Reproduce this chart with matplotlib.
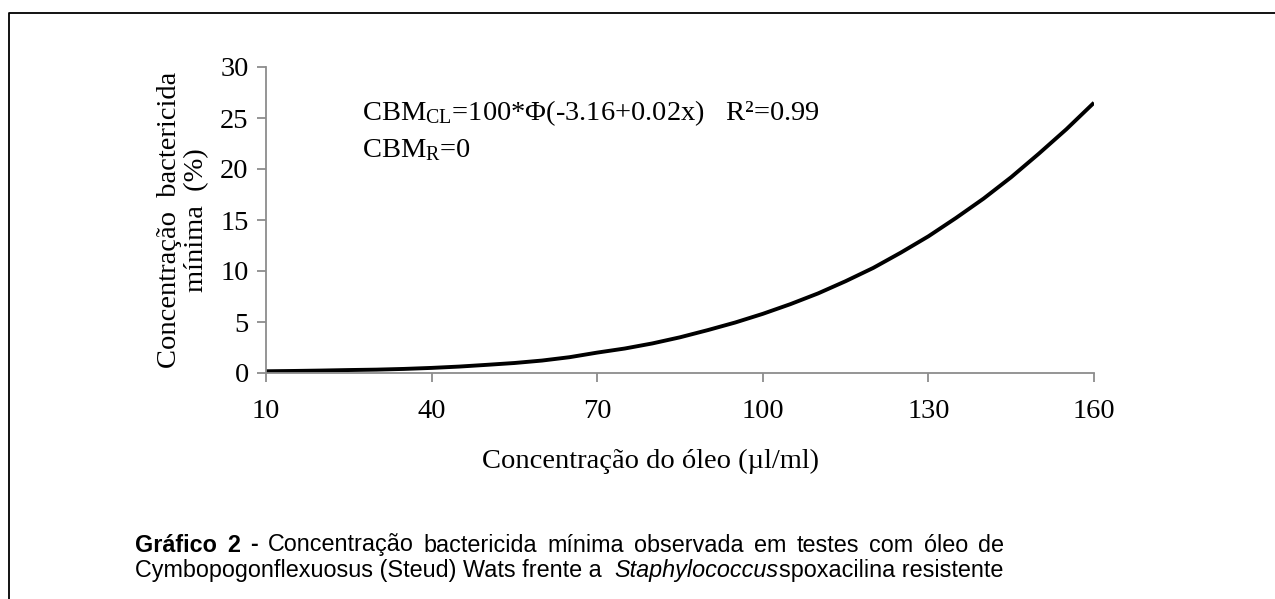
import matplotlib
matplotlib.use("Agg")
import matplotlib.pyplot as plt
from matplotlib.lines import Line2D

# ---- data ----
x_conc = [10, 15, 20, 25, 30, 35, 40, 45, 50, 55, 60, 65, 70, 75, 80, 85,
          90, 95, 100, 105, 110, 115, 120, 125, 130, 135, 140, 145, 150, 155, 160]
cbm_pct = [0.17, 0.2, 0.24, 0.29, 0.33, 0.4, 0.5, 0.63, 0.8, 0.98, 1.22, 1.55, 2.0, 2.4, 2.9, 3.5,
           4.2, 4.95, 5.8, 6.75, 7.8, 9.0, 10.3, 11.8, 13.4, 15.2, 17.1, 19.2, 21.5, 23.9, 26.5]
x_ticks = [10, 40, 70, 100, 130, 160]
y_ticks = [0, 5, 10, 15, 20, 25, 30]

ylabel = "Concentração  bactericida\nmínima  (%)"
xlabel = "Concentração do óleo (µl/ml)"
eq1 = r"CBM$_{\mathrm{CL}}$=100*Φ(-3.16+0.02x)   R²=0.99"
eq2 = r"CBM$_{\mathrm{R}}$=0"
cap1_bold = ["Gráfico", "2", "-"]
cap1_words = ["Concentração", "bactericida", "mínima", "observada", "em", "testes", "com", "óleo", "de"]
cap2_parts = [("Cymbopogonflexuosus (Steud) Wats frente a  ", "normal"),
              ("Staphylococcus", "italic"),
              ("spoxacilina resistente", "normal")]

plt.rcParams['mathtext.fontset'] = 'custom'
plt.rcParams['mathtext.rm'] = 'Liberation Serif'
plt.rcParams['mathtext.it'] = 'Liberation Serif:italic'
plt.rcParams['mathtext.bf'] = 'Liberation Serif:bold'

W, H = 1275, 599
fig = plt.figure(figsize=(W / 100, H / 100), dpi=100)
fig.patch.set_facecolor("white")

ax = fig.add_axes([266 / W, 1 - 373 / H, (1094 - 266) / W, (373 - 67) / H])
serif = "Liberation Serif"
fs = 20.5
ax.plot(x_conc, cbm_pct, color="black", lw=2.8, solid_capstyle="butt")
ax.set_xlim(10, 160)
ax.set_ylim(0, 30)
ax.set_xticks(x_ticks)
ax.set_yticks(y_ticks)
for s in ["top", "right"]:
    ax.spines[s].set_visible(False)
for s in ["left", "bottom"]:
    ax.spines[s].set_color("#8c8c8c")
    ax.spines[s].set_linewidth(1.3)
ax.tick_params(axis="both", direction="out", length=6.5, width=1.3, color="#8c8c8c",
               labelsize=fs, labelcolor="black")
ax.tick_params(axis="y", pad=6)
ax.tick_params(axis="x", pad=12)
for lab in ax.get_xticklabels() + ax.get_yticklabels():
    lab.set_family(serif)
ax.set_ylabel(ylabel, family=serif, fontsize=fs, labelpad=8, linespacing=1.12)
ax.set_xlabel(xlabel, family=serif, fontsize=fs, labelpad=18)
ax.xaxis.label.set_x((651 - 266) / (1094 - 266))

fig.text(362 / W, 1 - 113 / H, eq1, family=serif, fontsize=fs, va="center", ha="left")
fig.text(362 / W, 1 - 150 / H, eq2, family=serif, fontsize=fs, va="center", ha="left")

# frame around figure
fig.add_artist(Line2D([9 / W, 9 / W, 1.0], [0.0, 1 - 13 / H, 1 - 13 / H],
                      transform=fig.transFigure, color="black", lw=1.3))

# caption, first line justified
cfs = 16.8
sans = "Liberation Sans"
x0, x1 = 135, 1004
y1, y2 = 545, 571
renderer = fig.canvas.get_renderer()
words = [(w, "bold") for w in cap1_bold] + [(w, "normal") for w in cap1_words]
texts = []
widths = []
for w, wt in words:
    t = fig.text(0, 1 - y1 / H, w, family=sans, fontsize=cfs, weight=wt, va="center", ha="left")
    bb = t.get_window_extent(renderer)
    texts.append(t)
    widths.append(bb.width)
gap = (x1 - x0 - sum(widths)) / (len(words) - 1)
cx = x0
for t, wd in zip(texts, widths):
    t.set_x(cx / W)
    cx += wd + gap

cx = x0
for s, style in cap2_parts:
    t = fig.text(cx / W, 1 - y2 / H, s, family=sans, fontsize=cfs, style=style, va="center", ha="left")
    bb = t.get_window_extent(renderer)
    cx += bb.width

fig.savefig("out.png", dpi=100, facecolor="white")
